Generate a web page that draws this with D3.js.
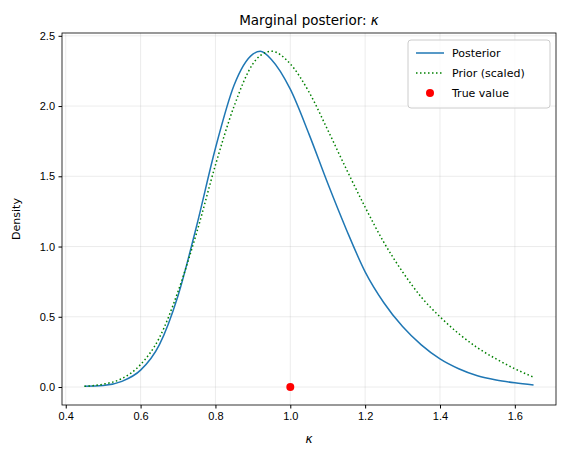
<!DOCTYPE html>
<html><head><meta charset="utf-8">
<script src="https://cdn.jsdelivr.net/npm/d3@7"></script>
<style>
body{margin:0;background:#fff;font-family:"DejaVu Sans",sans-serif;}
.tick text{font-size:11px;fill:#000}
</style></head><body><div id="chart"></div>
<script>
const xs = [0.45,0.5,0.55,0.6,0.65,0.7,0.75,0.8,0.85,0.9,0.92,0.95,1.0,1.05,1.1,1.15,1.2,1.25,1.3,1.35,1.4,1.45,1.5,1.55,1.6,1.65];
const posterior = [0.005,0.01,0.04,0.12,0.3,0.65,1.15,1.7,2.15,2.37,2.39,2.33,2.12,1.8,1.45,1.12,0.82,0.6,0.43,0.3,0.2,0.13,0.08,0.05,0.03,0.015];
const prior = [0.005,0.02,0.06,0.16,0.35,0.68,1.1,1.58,2.0,2.3,2.36,2.39,2.3,2.1,1.83,1.55,1.28,1.03,0.82,0.64,0.5,0.38,0.28,0.2,0.13,0.07];
const trueValue = [1.0, 0.0];
const xTicks = [0.4,0.6,0.8,1.0,1.2,1.4,1.6];
const yTicks = [0,0.5,1,1.5,2,2.5];

const W=567,H=457, m={top:33,right:11,bottom:52,left:62};
const w=W-m.left-m.right, h=H-m.top-m.bottom;
const svg=d3.select("#chart").append("svg").attr("width",W).attr("height",H);
const g=svg.append("g").attr("transform","translate("+m.left+","+m.top+")");
const x=d3.scaleLinear().domain([0.39,1.71]).range([0,w]);
const y=d3.scaleLinear().domain([-0.128,2.52]).range([h,0]);

g.append("g").selectAll("line").data(xTicks).join("line")
  .attr("x1",d=>x(d)).attr("x2",d=>x(d)).attr("y1",0).attr("y2",h)
  .attr("stroke","#b0b0b0").attr("stroke-opacity",0.3).attr("stroke-width",0.8);
g.append("g").selectAll("line").data(yTicks).join("line")
  .attr("y1",d=>y(d)).attr("y2",d=>y(d)).attr("x1",0).attr("x2",w)
  .attr("stroke","#b0b0b0").attr("stroke-opacity",0.3).attr("stroke-width",0.8);

g.append("g").attr("transform","translate(0,"+h+")")
  .call(d3.axisBottom(x).tickValues(xTicks).tickFormat(d3.format(".1f")).tickSizeOuter(0).tickSize(3.5).tickPadding(3.5));
g.append("g")
  .call(d3.axisLeft(y).tickValues(yTicks).tickFormat(d3.format(".1f")).tickSizeOuter(0).tickSize(3.5).tickPadding(3.5));
g.selectAll(".domain").remove();
g.append("rect").attr("width",w).attr("height",h).attr("fill","none").attr("stroke","#000").attr("stroke-width",0.8);

const line=vals=>d3.line().x((d,i)=>x(xs[i])).y(d=>y(d)).curve(d3.curveMonotoneX)(vals);
g.append("path").attr("d",line(posterior)).attr("fill","none").attr("stroke","#1f77b4").attr("stroke-width",1.5);
g.append("path").attr("d",line(prior)).attr("fill","none").attr("stroke","green").attr("stroke-width",1.5).attr("stroke-dasharray","1.5,2.5");
g.append("circle").attr("cx",x(trueValue[0])).attr("cy",y(trueValue[1])).attr("r",4).attr("fill","red");

svg.append("text").attr("x",m.left+w/2).attr("y",m.top-8).attr("text-anchor","middle").attr("font-size",13.5)
  .html('Marginal posterior: <tspan font-style="italic">κ</tspan>');
svg.append("text").attr("x",m.left+w/2).attr("y",H-14).attr("text-anchor","middle").attr("font-size",12).attr("font-style","italic").text("κ");
svg.append("text").attr("transform","translate(20,"+(m.top+h/2)+") rotate(-90)").attr("text-anchor","middle").attr("font-size",11).text("Density");

const lg=g.append("g").attr("transform","translate("+(w-148)+",7)");
lg.append("rect").attr("width",142).attr("height",68).attr("rx",3).attr("fill","#fff").attr("fill-opacity",0.8).attr("stroke","#ccc");
const items=[["Posterior","line"],["Prior (scaled)","dot"],["True value","pt"]];
items.forEach((it,i)=>{
  const yy=13+i*20;
  if(it[1]==="line") lg.append("line").attr("x1",8).attr("x2",36).attr("y1",yy).attr("y2",yy).attr("stroke","#1f77b4").attr("stroke-width",1.5);
  if(it[1]==="dot") lg.append("line").attr("x1",8).attr("x2",36).attr("y1",yy).attr("y2",yy).attr("stroke","green").attr("stroke-width",1.5).attr("stroke-dasharray","1.5,2.5");
  if(it[1]==="pt") lg.append("circle").attr("cx",22).attr("cy",yy).attr("r",4).attr("fill","red");
  lg.append("text").attr("x",44).attr("y",yy+4).attr("font-size",11).text(it[0]);
});
</script></body></html>
